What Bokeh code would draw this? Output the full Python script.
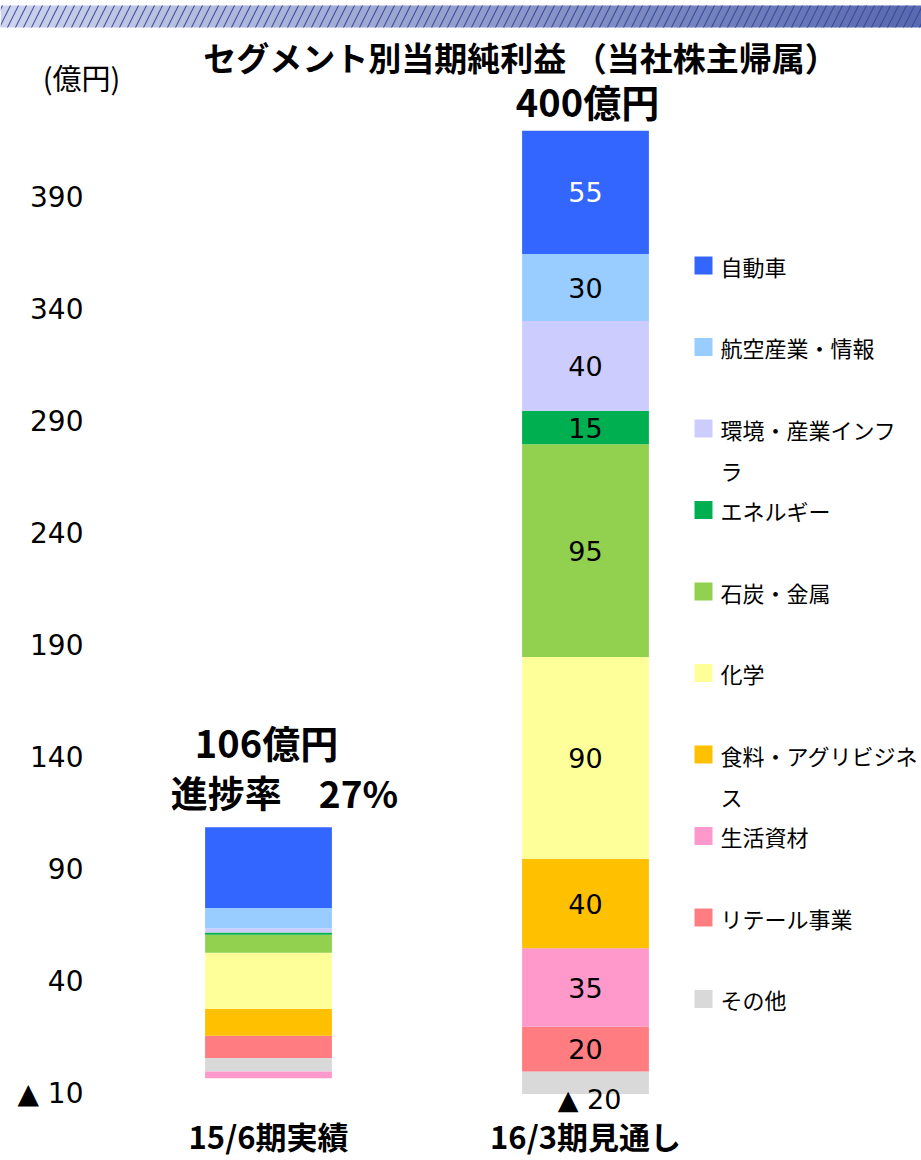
from bokeh.plotting import figure
from bokeh.models import ColumnDataSource, Range1d, FixedTicker, Label, BoxAnnotation
from bokeh.core.properties import value
from bokeh.embed import file_html
from bokeh.resources import INLINE

# ---------------- data ----------------
segments = ["自動車", "航空産業・情報", "環境・産業インフラ", "エネルギー", "石炭・金属",
            "化学", "食料・アグリビジネス", "生活資材", "リテール事業", "その他"]
legend_lines = [["自動車"], ["航空産業・情報"], ["環境・産業インフ", "ラ"], ["エネルギー"],
                ["石炭・金属"], ["化学"], ["食料・アグリビジネ", "ス"], ["生活資材"],
                ["リテール事業"], ["その他"]]
colors = ["#3366FF", "#99CCFF", "#CCCCFF", "#00B050", "#92D050",
          "#FFFF99", "#FFC000", "#FF99CC", "#FF7C80", "#D9D9D9"]
periods = ["15/6期実績", "16/3期見通し"]
actual_15_6 = [36, 9, 2, 1, 8, 25, 12, -3, 10, 6]
forecast_16_3 = [55, 30, 40, 15, 95, 90, 40, 35, 20, -20]
y_ticks = [-10, 40, 90, 140, 190, 240, 290, 340, 390]
y_min = -10
title_text = "セグメント別当期純利益 （当社株主帰属）"
unit_text = "(億円)"

series = [actual_15_6, forecast_16_3]
bar_x = [i + 1 for i in range(len(periods))]

# ---------------- stacking (positive and negative stacks, clipped at axis minimum) ----------------
bx, bb, bt, bc = [], [], [], []
lx, ly, lt, lc = [], [], [], []
pos_tops = []
neg_values = []
for j, vals in enumerate(series):
    pos, neg = 0.0, 0.0
    for i in reversed(range(len(segments))):
        v = vals[i]
        if v >= 0:
            b, t = pos, pos + v
            pos = t
        else:
            b, t = neg + v, neg
            neg = b
        bx.append(bar_x[j]); bb.append(max(b, y_min)); bt.append(max(t, y_min)); bc.append(colors[i])
        if j == 1 and v > 0:
            lx.append(bar_x[j]); ly.append((b + t) / 2); lt.append(str(v))
            lc.append("white" if i == 0 else "black")
        if j == 1 and v < 0:
            neg_values.append((bar_x[j], v))
    pos_tops.append(pos)

totals = [sum(v) for v in series]
progress = int(totals[0] / totals[1] * 100 + 0.5)

CJK = "Noto Sans CJK JP"
NUM = "DejaVu Sans"
W, H = 921, 1160

# frame covers the whole canvas; axes are drawn at fixed locations inside it
PX_PER_X = 317.0
PX_PER_Y = 2.24
ZERO_PY = 1071.0
x_lo = 1 - 268 / PX_PER_X
x_hi = x_lo + W / PX_PER_X
y_lo = -(H - ZERO_PY) / PX_PER_Y
y_hi = ZERO_PY / PX_PER_Y

p = figure(width=W, height=H, x_range=Range1d(x_lo, x_hi), y_range=Range1d(y_lo, y_hi),
           output_backend="svg", toolbar_location=None, min_border=0,
           min_border_left=0, min_border_bottom=0, min_border_right=0, min_border_top=0)
p.xgrid.visible = False
p.ygrid.visible = False
p.outline_line_color = None
p.background_fill_color = "white"
p.border_fill_color = "white"

p.yaxis.fixed_location = x_lo + 95 / PX_PER_X
p.yaxis.ticker = FixedTicker(ticks=y_ticks)
p.yaxis.major_label_overrides = {t: ("▲ %d" % abs(t) if t < 0 else str(t)) for t in y_ticks}
p.yaxis.major_label_text_font = NUM
p.yaxis.major_label_text_font_size = "28px"
p.yaxis.major_label_text_color = "black"
p.yaxis.major_label_standoff = 6

p.xaxis.fixed_location = y_min
p.xaxis.ticker = FixedTicker(ticks=bar_x)
p.xaxis.major_label_overrides = {x: lab for x, lab in zip(bar_x, periods)}
p.xaxis.major_label_text_font = CJK
p.xaxis.major_label_text_font_style = "bold"
p.xaxis.major_label_text_font_size = "31px"
p.xaxis.major_label_text_color = "black"
p.xaxis.major_label_standoff = 13

for ax in (p.xaxis, p.yaxis):
    ax.axis_line_color = None
    ax.major_tick_line_color = None
    ax.minor_tick_line_color = None

src = ColumnDataSource(dict(x=bx, bottom=bb, top=bt, color=bc))
p.vbar(x="x", bottom="bottom", top="top", width=0.4, fill_color="color", line_color=None, source=src)

lab_src = ColumnDataSource(dict(x=lx, y=ly, text=lt, color=lc))
p.text(x="x", y="y", text="text", text_color="color", source=lab_src,
       text_font=value(NUM), text_font_size="27px", text_align="center", text_baseline="middle")

for (x, v) in neg_values:
    p.add_layout(Label(x=x, y=y_min, text="▲ %d" % abs(v), text_font=NUM, text_font_size="27px",
                       text_align="center", text_baseline="middle", y_offset=-6, x_offset=4,
                       text_color="black"))

# totals
p.add_layout(Label(x=bar_x[1], y=pos_tops[1], text="%d億円" % totals[1], text_font=CJK,
                   text_font_style="bold", text_font_size="38px", text_align="center",
                   text_baseline="middle", y_offset=30, x_offset=2, text_color="black"))
p.add_layout(Label(x=bar_x[0], y=pos_tops[0], text="%d億円" % totals[0], text_font=CJK,
                   text_font_style="bold", text_font_size="38px", text_align="center",
                   text_baseline="middle", y_offset=86, x_offset=-2, text_color="black"))
p.add_layout(Label(x=bar_x[0], y=pos_tops[0], text="進捗率　%d%%" % progress, text_font=CJK,
                   text_font_style="bold", text_font_size="37px", text_align="center",
                   text_baseline="middle", y_offset=35, x_offset=16, text_color="black"))

# screen helpers: frame == canvas, x from left, y up from bottom
def sx(px):
    return px
def sy(py):
    return H - py

# header band (gradient with diagonal stripes)
n = 64
c0 = (205, 211, 235)
c1 = (90, 106, 176)
for k in range(n):
    f = k / (n - 1)
    col = "#%02x%02x%02x" % tuple(int(c0[m] + (c1[m] - c0[m]) * f) for m in range(3))
    p.add_layout(BoxAnnotation(left=sx(W * k / n), right=sx(W * (k + 1) / n + 1),
                               top=sy(5), bottom=sy(27),
                               left_units="screen", right_units="screen",
                               top_units="screen", bottom_units="screen",
                               fill_color=col, fill_alpha=1, line_color=None))
p.add_layout(BoxAnnotation(left=sx(0), right=sx(W), top=sy(5), bottom=sy(27),
                           left_units="screen", right_units="screen",
                           top_units="screen", bottom_units="screen",
                           fill_alpha=0, line_color=None, hatch_pattern="/",
                           hatch_color="#33449a", hatch_scale=16, hatch_weight=1.2, hatch_alpha=0.85))

p.add_layout(Label(x=sx(520), y=sy(56), x_units="screen", y_units="screen", text=title_text,
                   text_font=CJK, text_font_style="bold", text_font_size="33px",
                   text_align="center", text_baseline="middle", text_color="black"))
p.add_layout(Label(x=sx(81), y=sy(76), x_units="screen", y_units="screen", text=unit_text,
                   text_font=CJK, text_font_size="29px",
                   text_align="center", text_baseline="middle", text_color="black"))

# legend
for i, (lines, col) in enumerate(zip(legend_lines, colors)):
    cy = 265 + i * 81.5
    p.add_layout(BoxAnnotation(left=sx(694), right=sx(712), top=sy(cy - 9), bottom=sy(cy + 9),
                               left_units="screen", right_units="screen",
                               top_units="screen", bottom_units="screen",
                               fill_color=col, fill_alpha=1, line_color=None))
    for k, ln in enumerate(lines):
        p.add_layout(Label(x=sx(720), y=sy(cy + 41 * k), x_units="screen", y_units="screen",
                           text=ln, text_font=CJK, text_font_size="22px",
                           text_align="left", text_baseline="middle", text_color="black"))

open("out.html", "w").write(file_html(p, INLINE))
